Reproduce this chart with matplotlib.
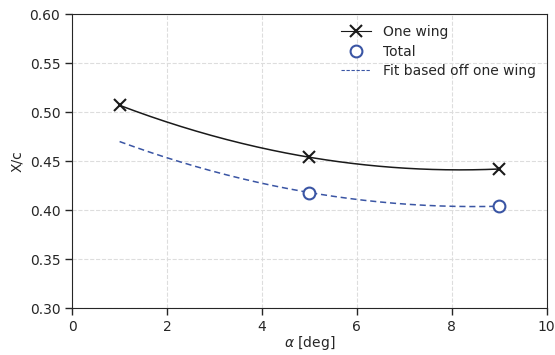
#!/usr/bin/env python3
"""Centre-of-pressure position vs angle of attack."""
import matplotlib

matplotlib.use("Agg")
import matplotlib.pyplot as plt
import numpy as np

ALPHA = [1, 5, 9]
ONE_WING = [0.507, 0.454, 0.442]
TOTAL_ALPHA = [5, 9]
TOTAL = [0.418, 0.404]
FIT_ALPHA = [1, 5, 9]
FIT = [0.470, 0.418, 0.404]

TEXT = "#262626"
BLUE = "#3A55A4"

plt.rcParams.update({
    "font.family": "DejaVu Sans",
    "font.size": 10,
    "text.color": TEXT,
    "axes.labelcolor": TEXT,
    "xtick.color": TEXT,
    "ytick.color": TEXT,
    "axes.edgecolor": TEXT,
})

fig, ax = plt.subplots(figsize=(5.55, 3.55), dpi=100)

xs = np.linspace(1, 9, 200)
p_one = np.polyfit(ALPHA, ONE_WING, 2)
p_fit = np.polyfit(FIT_ALPHA, FIT, 2)

ax.plot(xs, np.polyval(p_one, xs), color="#1a1a1a", lw=1.1, zorder=3)
ax.plot(ALPHA, ONE_WING, ls="none", marker="x", ms=9, mew=1.5, color="#1a1a1a", zorder=4)
ax.plot(xs, np.polyval(p_fit, xs), color=BLUE, lw=1.1, ls="--", dashes=(4, 2.5), zorder=3)
ax.plot(TOTAL_ALPHA, TOTAL, ls="none", marker="o", ms=8.5, mew=1.5, mfc="white",
        mec=BLUE, zorder=4)

# legend proxies
h1, = ax.plot([], [], color="#1a1a1a", lw=0.8, marker="x", ms=9, mew=1.5)
h2, = ax.plot([], [], ls="none", marker="o", ms=8.5, mew=1.5, mfc="white", mec=BLUE)
h3, = ax.plot([], [], color=BLUE, lw=0.8, ls="--", dashes=(3, 1.5))
ax.legend([h1, h2, h3], ["One wing", "Total", "Fit based off one wing"],
          loc="upper right", frameon=False, fontsize=10, handlelength=2.2,
          labelspacing=0.4, bbox_to_anchor=(1.003, 1.005))

ax.set_xlim(0, 10)
ax.set_ylim(0.30, 0.60)
ax.set_xticks(range(0, 11, 2))
ax.set_yticks(np.arange(0.30, 0.601, 0.05))
ax.set_yticklabels([f"{v:.2f}" for v in np.arange(0.30, 0.601, 0.05)])
ax.tick_params(direction="out", length=5, width=1)
ax.grid(True, ls="--", color="#dddddd", lw=0.8)
ax.set_axisbelow(True)
ax.set_xlabel(r"$\alpha$ [deg]", labelpad=0)
ax.set_ylabel("X/c", labelpad=4)

fig.subplots_adjust(left=0.13, right=0.985, top=0.96, bottom=0.132)
fig.savefig("out.png", dpi=100)
